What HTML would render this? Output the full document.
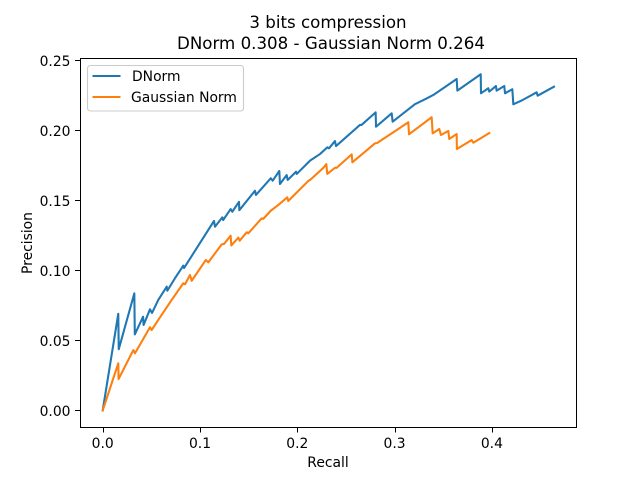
<!DOCTYPE html>
<html lang="en">
<head>
<meta charset="utf-8">
<title>3 bits compression</title>
<style>
html,body{margin:0;padding:0;background:#fff;width:640px;height:480px;overflow:hidden}
svg{display:block}
text{font-family:"DejaVu Sans","Liberation Sans",sans-serif;fill:#000}
</style>
</head>
<body>
<svg id="chart" width="640" height="480" viewBox="0 0 640 480" xmlns="http://www.w3.org/2000/svg">
  <text x="328" y="28" font-size="16.67" text-anchor="middle">3 bits compression</text>
  <text x="331" y="49" font-size="16.67" text-anchor="middle">DNorm 0.308 - Gaussian Norm 0.264</text>
  <g id="series"></g>
  <g id="axes"></g>
  <rect x="80.5" y="58.5" width="496" height="369" fill="none" stroke="#000" stroke-width="1.1" shape-rendering="crispEdges"></rect>
  <text x="328" y="467" font-size="13.89" text-anchor="middle">Recall</text>
  <text x="0" y="0" font-size="13.89" text-anchor="middle" transform="translate(32 243) rotate(-90)">Precision</text>
  <g>
    <rect x="87.5" y="65.5" width="156" height="45.5" rx="3" ry="3" fill="#fff" fill-opacity="0.8" stroke="#cccccc" stroke-width="1.1"></rect>
    <line x1="92.5" y1="76" x2="120.5" y2="76" stroke="#1f77b4" stroke-width="2.08"></line>
    <text x="132" y="81" font-size="13.89">DNorm</text>
    <line x1="92.5" y1="97" x2="120.5" y2="97" stroke="#ff7f0e" stroke-width="2.08"></line>
    <text x="131" y="102" font-size="13.89">Gaussian Norm</text>
  </g>
</svg>
<script>
const xTicks = [0, 0.1, 0.2, 0.3, 0.4];
const xTickLabels = ["0.0", "0.1", "0.2", "0.3", "0.4"];
const yTicks = [0, 0.05, 0.1, 0.15, 0.2, 0.25];
const yTickLabels = ["0.00", "0.05", "0.10", "0.15", "0.20", "0.25"];

const dnormRecall = [0, .016, .0165, .0325, .033, .0415, .042, .0486, .0507, .0571, .0658, .0664, .0743, .0828, .0836, .1144, .1154, .1229, .1238, .1315, .1332, .1401, .1404, .1565, .1575, .1727, .1747, .1815, .1822, .1891, .1901, .1987, .1994, .2131, .2233, .2308, .2326, .2387, .2398, .2644, .2660, .2805, .2809, .2970, .2980, .3209, .3312, .3398, .3638, .3645, .3885, .3888, .3963, .3973, .4041, .4049, .4127, .4135, .4210, .4220, .4316, .4460, .4470, .4638];
const dnormPrecision = [0, .0690, .0437, .0836, .0543, .0669, .0610, .0722, .0696, .0789, .0884, .0855, .0944, .1034, .1017, .1353, .1312, .1379, .1360, .1438, .1419, .1490, .1430, .1569, .1539, .1658, .1641, .1710, .1617, .1681, .1646, .1705, .1689, .1784, .1831, .1879, .1872, .1924, .1888, .2039, .2039, .2129, .2026, .2122, .2062, .2187, .2222, .2253, .2367, .2284, .2401, .2265, .2301, .2277, .2317, .2284, .2317, .2265, .2294, .2186, .2217, .2272, .2248, .2312];

const gaussRecall = [0, .0160, .0163, .0315, .0332, .0486, .0503, .0582, .0709, .0828, .0846, .0897, .0915, .1059, .1086, .1223, .1247, .1315, .1322, .1394, .1408, .1480, .1497, .1634, .1650, .1727, .1813, .1897, .1907, .2113, .2131, .2267, .2298, .2308, .2387, .2405, .2559, .2566, .2799, .2820, .2970, .3141, .3148, .3381, .3391, .3459, .3477, .3552, .3562, .3638, .3640, .3792, .3809, .3973];
const gaussPrecision = [0, .0336, .0224, .0431, .0408, .0594, .0574, .0658, .0789, .0908, .0901, .0967, .0926, .1074, .1058, .1186, .1189, .1248, .1178, .1234, .1212, .1272, .1265, .1372, .1368, .1426, .1472, .1522, .1496, .1639, .1646, .1732, .1759, .1689, .1733, .1733, .1829, .1772, .1908, .1910, .1979, .2058, .1972, .2094, .1979, .2010, .1967, .1996, .1939, .1974, .1867, .1931, .1912, .1981];

const SVG_NS = "http://www.w3.org/2000/svg";
function xScale(v) { return 102.7 + 973 * v; }
function yScale(v) { return 410.4 - 1400 * v; }
function linePoints(xs, ys) {
  return xs.map(function (x, i) { return xScale(x).toFixed(2) + "," + yScale(ys[i]).toFixed(2); }).join(" ");
}
const seriesGroup = document.getElementById("series");
const axesGroup = document.getElementById("axes");

const dnormLine = document.createElementNS(SVG_NS, "polyline");


dnormLine.setAttribute("points", linePoints(dnormRecall, dnormPrecision));
dnormLine.setAttribute("fill", "none");
dnormLine.setAttribute("stroke", "#1f77b4");
dnormLine.setAttribute("stroke-width", "2.08");
dnormLine.setAttribute("stroke-linejoin", "round");
dnormLine.setAttribute("stroke-linecap", "square");
seriesGroup.appendChild(dnormLine);

const gaussLine = document.createElementNS(SVG_NS, "polyline");


gaussLine.setAttribute("points", linePoints(gaussRecall, gaussPrecision));
gaussLine.setAttribute("fill", "none");
gaussLine.setAttribute("stroke", "#ff7f0e");
gaussLine.setAttribute("stroke-width", "2.08");
gaussLine.setAttribute("stroke-linejoin", "round");
gaussLine.setAttribute("stroke-linecap", "square");
seriesGroup.appendChild(gaussLine);

xTicks.forEach(function (t, i) {
  const px = Math.round(xScale(t)) + 0.5;
  const mark = document.createElementNS(SVG_NS, "line");
  
  
  mark.setAttribute("x1", px);
  mark.setAttribute("x2", px);
  mark.setAttribute("y1", 427.5);
  mark.setAttribute("y2", 432.4);
  mark.setAttribute("stroke", "#000");
  mark.setAttribute("stroke-width", "1.1");
  mark.setAttribute("shape-rendering", "crispEdges");
  axesGroup.appendChild(mark);
  const label = document.createElementNS(SVG_NS, "text");
  
  
  label.setAttribute("x", xScale(t));
  label.setAttribute("y", 448);
  label.setAttribute("font-size", "13.89");
  label.setAttribute("text-anchor", "middle");
  label.textContent = xTickLabels[i];
  axesGroup.appendChild(label);
});

yTicks.forEach(function (t, i) {
  const py = Math.round(yScale(t)) + 0.5;
  const mark = document.createElementNS(SVG_NS, "line");
  
  
  mark.setAttribute("x1", 75);
  mark.setAttribute("x2", 80.5);
  mark.setAttribute("y1", py);
  mark.setAttribute("y2", py);
  mark.setAttribute("stroke", "#000");
  mark.setAttribute("stroke-width", "1.1");
  mark.setAttribute("shape-rendering", "crispEdges");
  axesGroup.appendChild(mark);
  const label = document.createElementNS(SVG_NS, "text");
  
  
  label.setAttribute("x", 70.5);
  label.setAttribute("y", yScale(t) + 5.5);
  label.setAttribute("font-size", "13.89");
  label.setAttribute("text-anchor", "end");
  label.textContent = yTickLabels[i];
  axesGroup.appendChild(label);
});
</script>
</body>
</html>
